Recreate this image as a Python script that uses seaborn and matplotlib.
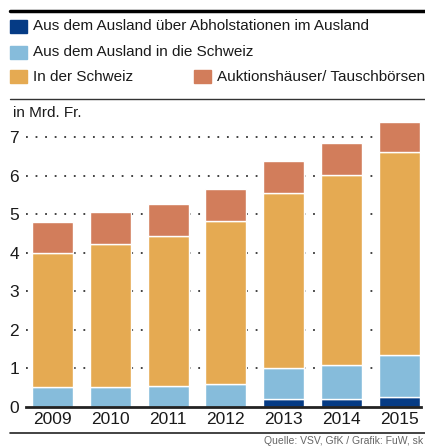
import numpy as np
import pandas as pd
import seaborn as sns
import matplotlib.pyplot as plt
from matplotlib import font_manager
from matplotlib.patches import Rectangle
from matplotlib.lines import Line2D

# values in Mrd. Fr.
years = ['2009', '2010', '2011', '2012', '2013', '2014', '2015']
abholstationen = [0.0, 0.0, 0.0, 0.0, 0.20, 0.20, 0.25]
ausland_ch = [0.50, 0.50, 0.55, 0.60, 0.80, 0.89, 1.10]
schweiz = [3.48, 3.73, 3.88, 4.22, 4.56, 4.93, 5.26]
auktion = [0.83, 0.83, 0.83, 0.83, 0.83, 0.82, 0.78]

labels = ['Aus dem Ausland über Abholstationen im Ausland',
          'Aus dem Ausland in die Schweiz',
          'In der Schweiz',
          'Auktionshäuser/ Tauschbörsen']
colors = ['#053b85', '#86bcdb', '#e5aa52', '#d27d5b']
yticks = [0, 1, 2, 3, 4, 5, 6, 7]

df = pd.DataFrame({'year': years, 'a': abholstationen, 'b': ausland_ch,
                   'c': schweiz, 'd': auktion})

sns.set_style("white")
names = {f.name for f in font_manager.fontManager.ttflist}
if 'Liberation Sans Narrow' in names:
    plt.rcParams['font.family'] = ['Liberation Sans Narrow', 'DejaVu Sans']
    fs = 13.5
else:
    plt.rcParams['font.family'] = ['Liberation Sans', 'DejaVu Sans']
    fs = 11
plt.rcParams['text.color'] = '#1a1a1a'

W, H = 425, 447
fig = plt.figure(figsize=(W / 100, H / 100), dpi=100)
y0 = 406.7
ppu = 38.5
ytop = 7.5
ax = fig.add_axes([26 / W, (H - y0) / H, (421 - 26) / W, ytop * ppu / H])

bottom = np.zeros(len(years))
for col, c in zip(['a', 'b', 'c', 'd'], colors):
    sns.barplot(data=df, x='year', y=col, bottom=bottom, color=c, width=0.71,
                edgecolor='white', linewidth=1.0, saturation=1, ax=ax, zorder=3)
    bottom = bottom + df[col].values

ax.set_xlim(-0.46, 6.38)
ax.set_ylim(0, ytop)
ax.set_yticks(yticks)
ax.set_yticklabels([str(t) for t in yticks], fontsize=fs + 1.5)
ax.set_xticks(range(len(years)))
ax.set_xticklabels(years, fontsize=fs + 1.5)
ax.tick_params(axis='y', length=0, pad=5, colors='#1a1a1a')
ax.tick_params(axis='x', length=0, pad=4, colors='#1a1a1a')
ax.set_xlabel('')
ax.set_ylabel('')
for t in yticks[1:]:
    ax.axhline(t, color='#333333', linestyle=(0, (1, 4.3)), linewidth=1.3, zorder=1)
for s in ['top', 'right', 'left']:
    ax.spines[s].set_visible(False)
ax.spines['bottom'].set_color('#222222')
ax.spines['bottom'].set_linewidth(2)
ax.spines['bottom'].set_zorder(5)

# frame lines
fig.add_artist(Line2D([10 / W, 1], [1 - 11 / H] * 2, color='black', lw=2.5))
fig.add_artist(Line2D([10 / W, 1], [1 - 98.5 / H] * 2, color='#333333', lw=1))
fig.add_artist(Line2D([10 / W, 1], [1 - 433 / H] * 2, color='#222222', lw=1.2))

# legend
def legend_item(x, yc, color, text):
    fig.add_artist(Rectangle((x / W, 1 - (yc + 6.5) / H), 17 / W, 13 / H,
                             color=color, transform=fig.transFigure))
    fig.text((x + 23) / W, 1 - yc / H, text, fontsize=fs, va='center',
             ha='left')

legend_item(10, 26, colors[0], labels[0])
legend_item(10, 52, colors[1], labels[1])
legend_item(10, 77, colors[2], labels[2])
legend_item(194, 77, colors[3], labels[3])

fig.text(13 / W, 1 - 113 / H, 'in Mrd. Fr.', fontsize=fs, va='center',
         ha='left')
fig.text(423 / W, 1 / H, 'Quelle: VSV, GfK / Grafik: FuW, sk',
         fontsize=7.5, va='bottom', ha='right', color='#666666')

fig.savefig('out.png', dpi=100)
